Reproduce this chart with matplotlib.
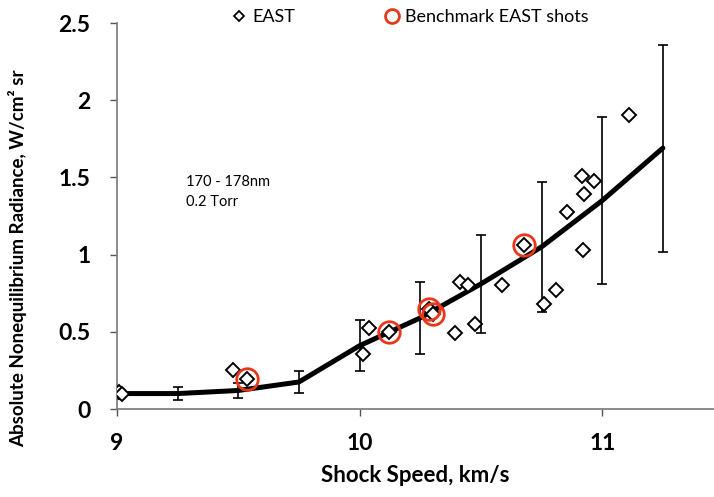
import matplotlib
matplotlib.use("Agg")
import matplotlib.pyplot as plt
from matplotlib.lines import Line2D

plt.rcParams['font.family'] = ['Lato', 'DejaVu Sans']

# EAST shots (shock speed km/s, radiance W/cm2 sr)
east_x = [9.01, 9.02, 9.48, 9.535, 10.015, 10.04, 10.12, 10.288, 10.304, 10.395,
          10.414, 10.446, 10.475, 10.588, 10.678, 10.76, 10.81, 10.856, 10.917,
          10.922, 10.926, 10.967, 11.112]
east_y = [0.11, 0.095, 0.255, 0.194, 0.358, 0.526, 0.498, 0.649, 0.617, 0.494,
          0.821, 0.806, 0.552, 0.806, 1.065, 0.681, 0.772, 1.278, 1.511,
          1.030, 1.392, 1.476, 1.903]

# benchmark shots (circled)
bench_x = [9.535, 10.12, 10.288, 10.304, 10.678]
bench_y = [0.194, 0.498, 0.649, 0.617, 1.065]

# fit line with error bars
fit_x = [9.0, 9.25, 9.5, 9.75, 10.0, 10.25, 10.5, 10.75, 11.0, 11.25]
fit_y = [0.10, 0.10, 0.12, 0.175, 0.41, 0.59, 0.81, 1.05, 1.35, 1.69]
fit_err = [0.035, 0.04, 0.05, 0.07, 0.165, 0.235, 0.32, 0.42, 0.54, 0.67]

yticks = [0, 0.5, 1, 1.5, 2, 2.5]
ytick_labels = ['0', '0.5', '1', '1.5', '2', '2.5']
xticks = [9, 10, 11]
xtick_labels = ['9', '10', '11']

red = '#E8381C'

fig = plt.figure(figsize=(7.14, 4.97), dpi=100)
ax = fig.add_axes([117/714, 88/497, 597/714, 386/497])

ax.errorbar(fit_x, fit_y, yerr=fit_err, fmt='none', ecolor='black',
            elinewidth=1.2, capsize=3.5, capthick=1.2, zorder=2)
ax.plot(fit_x, fit_y, color='black', lw=3.6, solid_capstyle='round', zorder=3)
ax.plot(east_x, east_y, 'D', ms=6.8, mfc='white', mec='black', mew=1.4,
        ls='none', zorder=4)
ax.plot(bench_x, bench_y, 'o', ms=15.5, mfc='none', mec=red, mew=2.0,
        ls='none', zorder=5)

ax.set_xlim(9, 9 + 597/242.6)
ax.set_ylim(0, 2.5)
ax.set_xticks(xticks)
ax.set_xticklabels(xtick_labels)
ax.set_yticks(yticks)
ax.set_yticklabels(ytick_labels)
for lab in ax.get_xticklabels() + ax.get_yticklabels():
    lab.set_fontweight('bold')
    lab.set_fontsize(16.5)
ax.tick_params(axis='both', direction='out', length=5, width=1, color='#555555')
ax.tick_params(axis='y', pad=14)
ax.tick_params(axis='x', pad=12)

for s in ['top', 'right']:
    ax.spines[s].set_visible(False)
for s in ['left', 'bottom']:
    ax.spines[s].set_color('#777777')
    ax.spines[s].set_linewidth(1.2)
ax.spines['bottom'].set_clip_on(False)

ax.set_xlabel('Shock Speed, km/s', fontsize=16, fontweight='bold', labelpad=8)
ax.set_ylabel('Absolute Nonequilibrium Radiance, W/cm² sr', fontsize=13.5,
              fontweight='bold')
ax.yaxis.set_label_coords(-0.15, 0.39)

ax.text(0.115, 0.605, '170 - 178nm\n0.2 Torr', transform=ax.transAxes,
        fontsize=10.5, va='top', ha='left', linespacing=1.5)

handles = [
    Line2D([], [], marker='D', ms=5.5, mfc='white', mec='black', mew=1.3, ls='none'),
    Line2D([], [], marker='o', ms=10, mfc='none', mec=red, mew=2.0, ls='none'),
]
fig.legend(handles, ['EAST', 'Benchmark EAST shots'], ncol=2, frameon=False,
           loc='center left', bbox_to_anchor=(225/714, 1 - 17/497),
           fontsize=13, handlelength=0.8, handletextpad=0.3,
           columnspacing=5.0, borderaxespad=0)

fig.savefig('out.png', dpi=100)
